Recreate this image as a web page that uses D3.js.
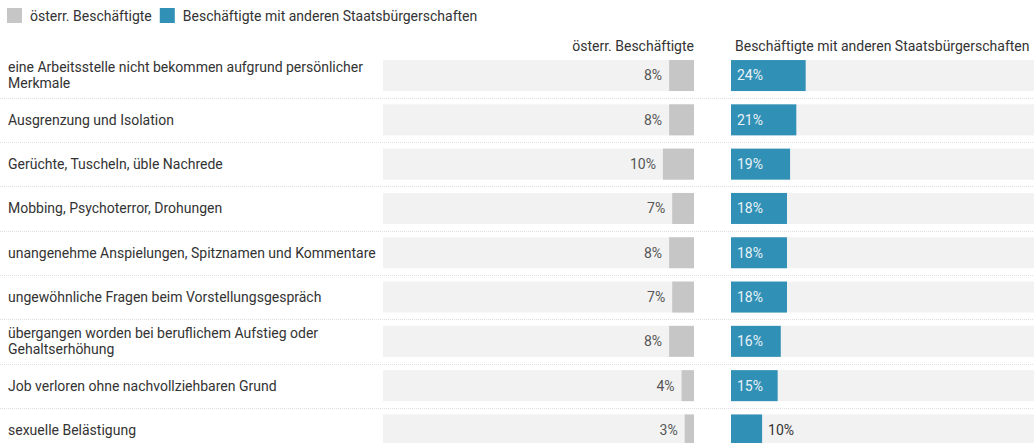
<!DOCTYPE html>
<html>
<head>
    <meta charset="utf-8">
    <title>Diskriminierung am Arbeitsplatz</title>
    <script src="https://d3js.org/d3.v7.min.js"></script>
    <style>
        body { margin: 0; background: #fff; }
        svg { display: block; font-family: Roboto, "Noto Sans", sans-serif; }
    </style>
</head>
<body>
<script>
    var categories = [
        "eine Arbeitsstelle nicht bekommen aufgrund persönlicher Merkmale",
        "Ausgrenzung und Isolation",
        "Gerüchte, Tuscheln, üble Nachrede",
        "Mobbing, Psychoterror, Drohungen",
        "unangenehme Anspielungen, Spitznamen und Kommentare",
        "ungewöhnliche Fragen beim Vorstellungsgespräch",
        "übergangen worden bei beruflichem Aufstieg oder Gehaltserhöhung",
        "Job verloren ohne nachvollziehbaren Grund",
        "sexuelle Belästigung"
    ];
    var seriesNames = ["österr. Beschäftigte", "Beschäftigte mit anderen Staatsbürgerschaften"];
    var austrianValues = [8, 8, 10, 7, 8, 7, 8, 4, 3];
    var foreignValues = [24, 21, 19, 18, 18, 18, 16, 15, 10];

    var width = 1034, height = 443;
    var colors = {grey: "#c6c6c6", blue: "#3190b5", bg: "#f2f2f2", text: "#333", value: "#555"};
    var fs = "14px";

    var svg = d3.select("body").append("svg")
        .attr("width", width)
        .attr("height", height);

    // legend
    var legend = svg.append("g").attr("transform", "translate(7,8)");
    var lx = 0;
    seriesNames.forEach(function(name, i) {
        var g = legend.append("g").attr("transform", "translate(" + lx + ",0)");
        g.append("rect").attr("width", 15).attr("height", 15)
            .attr("fill", i === 0 ? colors.grey : colors.blue);
        var t = g.append("text").attr("x", 23).attr("y", 12.5)
            .style("font-size", fs).attr("fill", colors.text).text(name);
        lx += 23 + t.node().getComputedTextLength() + 8;
    });

    // rows
    var y = d3.scaleBand()
        .domain(categories)
        .range([60 - 6.6, 60 - 6.6 + categories.length * 44.3])
        .paddingInner(0.3)
        .paddingOuter(0.15);

    var leftStart = 383, rightStart = 731, panelW = 311;
    var x = d3.scaleLinear().domain([0, 100]).range([0, panelW]);

    // column headers
    svg.append("text").attr("x", leftStart + panelW).attr("y", 51)
        .attr("text-anchor", "end").style("font-size", fs)
        .attr("fill", colors.text).text(seriesNames[0]);
    svg.append("text").attr("x", rightStart + 4).attr("y", 51)
        .style("font-size", fs).attr("fill", colors.text).text(seriesNames[1]);

    // dotted separators
    svg.selectAll(".sep")
        .data(categories.slice(1))
        .enter().append("line")
        .attr("class", "sep")
        .attr("x1", 0).attr("x2", width)
        .attr("y1", function(d) { return Math.round(y(d) - (y.step() - y.bandwidth()) / 2) + 0.5; })
        .attr("y2", function(d) { return Math.round(y(d) - (y.step() - y.bandwidth()) / 2) + 0.5; })
        .attr("stroke", "#dedede")
        .attr("stroke-dasharray", "1,1");

    var rows = svg.selectAll(".row")
        .data(categories)
        .enter().append("g")
        .attr("class", "row")
        .attr("transform", function(d) { return "translate(0," + y(d) + ")"; });

    var bh = y.bandwidth();

    // row labels with wrapping
    rows.each(function(d) {
        var g = d3.select(this);
        var words = d.split(" ");
        var lines = [];
        var line = [];
        var tmp = g.append("text").style("font-size", fs);
        words.forEach(function(w) {
            line.push(w);
            tmp.text(line.join(" "));
            if (tmp.node().getComputedTextLength() > 370 && line.length > 1) {
                line.pop();
                lines.push(line.join(" "));
                line = [w];
            }
        });
        lines.push(line.join(" "));
        tmp.remove();
        var t = g.append("text").style("font-size", fs).attr("fill", colors.text);
        lines.forEach(function(l, i) {
            t.append("tspan").attr("x", 8)
                .attr("y", bh / 2 + (i - (lines.length - 1) / 2) * 16)
                .attr("dy", "0.35em")
                .text(l);
        });
    });

    // backgrounds
    rows.append("rect").attr("x", leftStart).attr("width", panelW).attr("height", bh).attr("fill", colors.bg);
    rows.append("rect").attr("x", rightStart).attr("width", panelW).attr("height", bh).attr("fill", colors.bg);

    // austrian bars (right aligned)
    rows.append("rect")
        .attr("x", function(d, i) { return leftStart + panelW - x(austrianValues[i]); })
        .attr("width", function(d, i) { return x(austrianValues[i]); })
        .attr("height", bh)
        .attr("fill", colors.grey);
    rows.append("text")
        .attr("x", function(d, i) { return leftStart + panelW - x(austrianValues[i]) - 7; })
        .attr("y", bh / 2).attr("dy", "0.35em")
        .attr("text-anchor", "end")
        .style("font-size", fs)
        .attr("fill", colors.value)
        .text(function(d, i) { return austrianValues[i] + "%"; });

    // foreign bars
    rows.append("rect")
        .attr("x", rightStart)
        .attr("width", function(d, i) { return x(foreignValues[i]); })
        .attr("height", bh)
        .attr("fill", colors.blue);
    rows.append("text")
        .attr("y", bh / 2).attr("dy", "0.35em")
        .style("font-size", fs)
        .text(function(d, i) { return foreignValues[i] + "%"; })
        .each(function(d, i) {
            var t = d3.select(this);
            var w = x(foreignValues[i]);
            var inside = this.getComputedTextLength() + 12 < w;
            t.attr("x", inside ? rightStart + 6 : rightStart + w + 6)
                .attr("fill", inside ? "#e8f3f8" : colors.text);
        });
</script>
</body>
</html>
